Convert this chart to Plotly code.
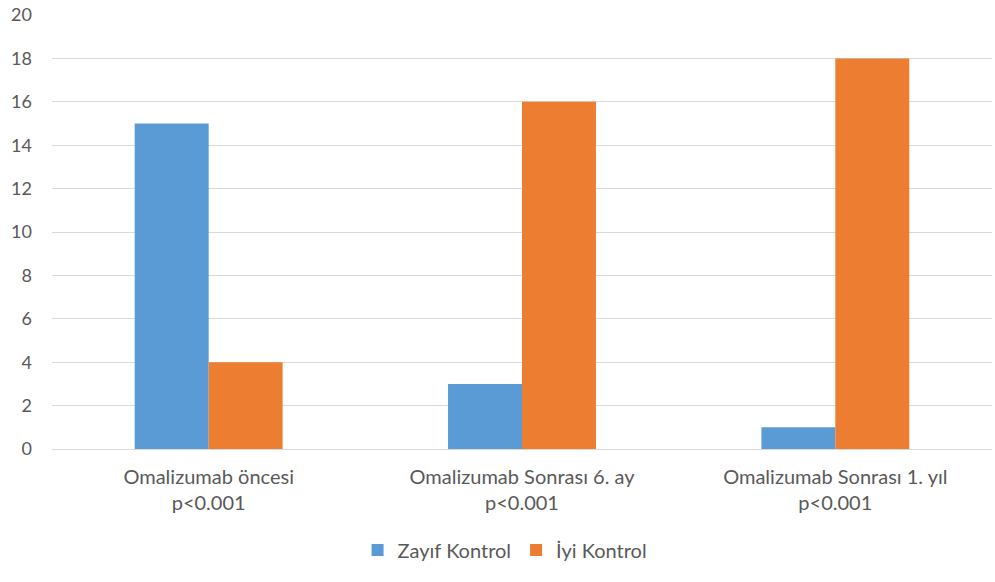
import plotly.graph_objects as go

# Asthma control status at each time point
categories = ["Omalizumab öncesi", "Omalizumab Sonrası 6. ay", "Omalizumab Sonrası 1. yıl"]
p_values = ["p<0.001", "p<0.001", "p<0.001"]
zayif_kontrol = [15, 3, 1]
iyi_kontrol = [4, 16, 18]
y_ticks = [0, 2, 4, 6, 8, 10, 12, 14, 16, 18, 20]

tick_text = [f"{c}<br>{p}" for c, p in zip(categories, p_values)]

FONT = "Lato, Open Sans, sans-serif"
TEXT_COLOR = "#595959"

fig = go.Figure()
fig.add_trace(go.Bar(
    x=categories, y=zayif_kontrol, name="Zayıf Kontrol",
    marker=dict(color="#5B9BD5", line=dict(width=0)),
))
fig.add_trace(go.Bar(
    x=categories, y=iyi_kontrol, name="İyi Kontrol",
    marker=dict(color="#ED7D31", line=dict(width=0)),
))

fig.update_layout(
    width=995, height=582,
    margin=dict(l=52, r=3, t=15, b=133),
    paper_bgcolor="white", plot_bgcolor="white",
    barmode="group", bargap=0.528, bargroupgap=0,
    font=dict(family=FONT, size=19, color=TEXT_COLOR),
    showlegend=True,
    legend=dict(
        orientation="h", x=0.482, xanchor="center", y=-0.233, yanchor="middle",
        font=dict(size=20, color=TEXT_COLOR), itemwidth=30, traceorder="normal",
    ),
    xaxis=dict(
        tickmode="array", tickvals=categories, ticktext=tick_text,
        showgrid=False, showline=False, ticks="", ticklabelstandoff=14,
        tickfont=dict(size=20, color=TEXT_COLOR),
    ),
    yaxis=dict(
        range=[0, 20], tickmode="array", tickvals=y_ticks,
        showgrid=True, gridcolor="#D9D9D9", gridwidth=1,
        zeroline=True, zerolinecolor="#D9D9D9", zerolinewidth=1,
        showline=False, ticks="", ticklabelstandoff=19,
        tickfont=dict(size=18, color=TEXT_COLOR),
    ),
)

fig.write_html("out.html")
